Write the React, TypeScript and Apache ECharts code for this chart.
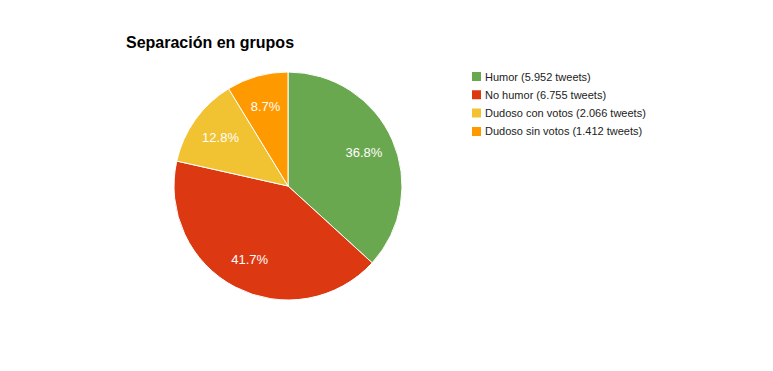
import React, { useEffect, useRef } from "react";
import * as echarts from "echarts";

const categories = [
  "Humor (5.952 tweets)",
  "No humor (6.755 tweets)",
  "Dudoso con votos (2.066 tweets)",
  "Dudoso sin votos (1.412 tweets)",
];
const values = [5952, 6755, 2066, 1412];
const colors = ["#6aa84f", "#dc3912", "#f1c232", "#ff9900"];

export default function App() {
  const ref = useRef<HTMLDivElement>(null);
  useEffect(() => {
    if (!ref.current) return;
    const chart = echarts.init(ref.current, undefined, { renderer: "svg" });
    const data = categories.map((c, i) => ({ name: c, value: values[i] }));
    chart.setOption({
      animation: false,
      color: colors,
      title: {
        text: "Separación en grupos",
        left: 126,
        top: 34,
        padding: 0,
        textStyle: { fontFamily: "Liberation Sans, Arial", fontSize: 16, fontWeight: "bold", color: "#000" },
      },
      legend: {
        orient: "vertical",
        left: 470,
        top: 70,
        padding: 0,
        itemWidth: 11,
        itemHeight: 11,
        itemGap: 5.3,
        icon: "rect",
        data: categories,
        textStyle: { fontFamily: "Liberation Sans, Arial", fontSize: 11, color: "#222", padding: [0, 0, 0, -2] },
      },
      series: [
        {
          type: "pie",
          center: [288, 186],
          radius: [0, 114],
          startAngle: 90,
          clockwise: true,
          label: { show: false },
          labelLine: { show: false },
          itemStyle: { borderColor: "#fff", borderWidth: 1 },
          emphasis: { disabled: true },
          data,
        },
        {
          type: "pie",
          center: [288, 186],
          radius: [46, 114],
          startAngle: 90,
          clockwise: true,
          silent: true,
          legendHoverLink: false,
          itemStyle: { color: "transparent", borderWidth: 0 },
          label: {
            show: true,
            position: "inside",
            formatter: (p: any) => p.percent.toFixed(1) + "%",
            color: "#fff",
            fontFamily: "Liberation Sans, Arial",
            fontSize: 13,
          },
          labelLine: { show: false },
          emphasis: { disabled: true },
          data: categories.map((c, i) => ({ name: c + " ", value: values[i] })),
        },
      ],
    });
    return () => chart.dispose();
  }, []);
  return (
    <div
      ref={ref}
      style={{ position: "fixed", left: 0, top: 0, width: 773, height: 371, background: "#fff" }}
    />
  );
}
